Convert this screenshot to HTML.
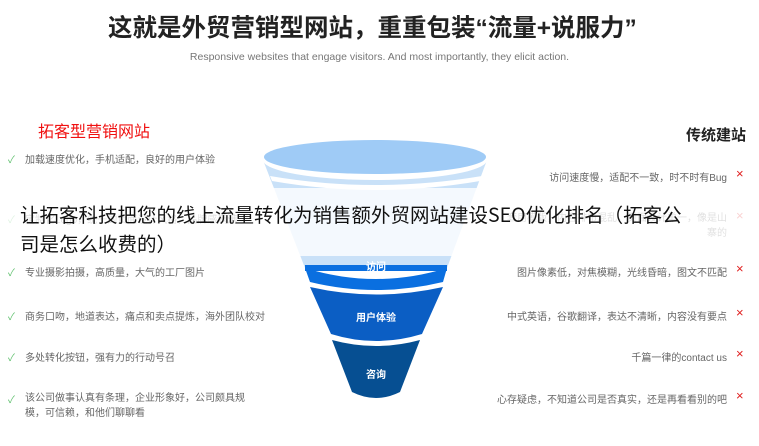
<!DOCTYPE html>
<html><head><meta charset="utf-8"><style>
body{margin:0;width:759px;height:446px;overflow:hidden;background:#fff;position:relative;font-family:"Liberation Sans","Noto Sans CJK SC",sans-serif}
.a{position:absolute;white-space:nowrap}
.l{font-size:10px;color:#666;left:25px}
.r{font-size:10px;color:#666;right:32px;text-align:right}
.ck{color:#5bbf6a;font-size:10px;left:8px}
.x{color:#e02020;font-size:13px;left:736px}
</style></head><body>
<div class="a" style="left:108px;top:9px;font-size:24.5px;font-weight:bold;color:#222">这就是外贸营销型网站，重重包装“流量+说服力”</div>
<div class="a" style="left:0;width:759px;text-align:center;top:51px;font-size:10.5px;color:#777">Responsive websites that engage visitors. And most importantly, they elicit action.</div>
<div class="a" style="left:38px;top:118px;font-size:16px;color:#f01010">拓客型营销网站</div>
<div class="a" style="left:686px;top:124px;font-size:15px;font-weight:bold;color:#222">传统建站</div>

<svg class="a" style="left:0;top:0" width="759" height="446">
<path d="M263 160 L305 268 L447 268 L487 160 Z" fill="#c9e1f8"/>
<path d="M305 268 Q376 290 447 268 L443 282 Q376 298 310 282 Z" fill="#0a6fe0"/>
<rect x="305" y="265" width="142" height="6" fill="#0a6fe0"/>
<path d="M310 287 Q376 302 443 287 L422 334 Q376 348 331 334 Z" fill="#0b5ec4"/>
<path d="M332 340 Q376 352 420 340 L400 392 Q376 404 352 392 Z" fill="#064f92"/>
<ellipse cx="375" cy="160" rx="112" ry="20" fill="#fff"/>
<ellipse cx="375" cy="157" rx="111" ry="17" fill="#9fcbf6"/>
<path d="M270 176 Q375 194 482 176 L480 181 Q375 199 272 181 Z" fill="#fff"/>
<text x="376" y="270" font-size="10" fill="#fff" text-anchor="middle" font-weight="bold" font-family="Noto Sans CJK SC">访问</text>
<text x="376" y="321" font-size="10" fill="#fff" text-anchor="middle" font-weight="bold" font-family="Noto Sans CJK SC">用户体验</text>
<text x="376" y="378" font-size="10" fill="#fff" text-anchor="middle" font-weight="bold" font-family="Noto Sans CJK SC">咨询</text>
</svg>

<div class="a ck" style="top:151px">✓</div><div class="a l" style="top:151px">加载速度优化，手机适配，良好的用户体验</div>
<div class="a ck" style="top:211px">✓</div><div class="a l" style="top:211px">定制化Logo，统一的页面设计风格，品牌感满满</div>
<div class="a ck" style="top:264px">✓</div><div class="a l" style="top:264px">专业摄影拍摄，高质量，大气的工厂图片</div>
<div class="a ck" style="top:308px">✓</div><div class="a l" style="top:308px">商务口吻，地道表达，痛点和卖点提炼，海外团队校对</div>
<div class="a ck" style="top:349px">✓</div><div class="a l" style="top:349px">多处转化按钮，强有力的行动号召</div>
<div class="a ck" style="top:391px">✓</div><div class="a l" style="top:391px;line-height:15px">该公司做事认真有条理，企业形象好，公司颇具规<br>模，可信赖，和他们聊聊看</div>

<div class="a r" style="top:169px">访问速度慢，适配不一致，时不时有Bug</div><div class="a x" style="top:166px">×</div>
<div class="a r" style="top:211px;line-height:15px">套用模版，内容排布混乱，页面设计单一，像是山<br>寨的</div><div class="a x" style="top:208px">×</div>
<div class="a r" style="top:264px">图片像素低，对焦模糊，光线昏暗，图文不匹配</div><div class="a x" style="top:261px">×</div>
<div class="a r" style="top:308px">中式英语，谷歌翻译，表达不清晰，内容没有要点</div><div class="a x" style="top:305px">×</div>
<div class="a r" style="top:349px">千篇一律的contact us</div><div class="a x" style="top:346px">×</div>
<div class="a r" style="top:391px">心存疑虑，不知道公司是否真实，还是再看看别的吧</div><div class="a x" style="top:388px">×</div>

<div class="a" style="left:0;top:188px;width:759px;height:68px;background:rgba(255,255,255,0.8)"></div>
<div class="a" style="left:20px;top:199px;font-size:19.5px;line-height:29px;color:#111;font-family:'Noto Sans CJK SC',sans-serif">让拓客科技把您的线上流量转化为销售额外贸网站建设SEO优化排名（拓客公<br>司是怎么收费的）</div>
</body></html>
